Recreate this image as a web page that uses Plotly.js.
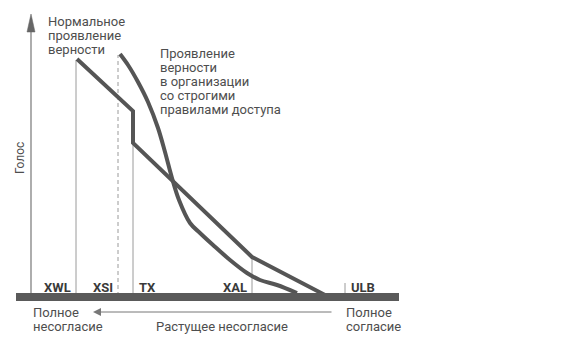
<!DOCTYPE html>
<html>
<head>
<meta charset="utf-8">
<script src="https://cdn.plot.ly/plotly-3.0.1.min.js"></script>
<style>html,body{margin:0;padding:0;background:#fff;}#chart{width:583px;height:352px;}</style>
</head>
<body>
<div id="chart"></div>
<script>
// ---- data (x: position along the agreement scale, y: voice) ----
const normalX = [46, 102, 102, 221, 294];
const normalY = [237, 185, 153, 39, 1];

const strictX = [89, 97, 107, 117, 127, 134, 141, 148, 159, 169, 182, 199, 216, 229, 246, 266];
const strictY = [242, 231, 214, 194, 168, 144, 118, 96, 73, 63, 51, 36, 23, 16, 11, 3];

const markerLabels = ['XWL', 'XSI', 'TX', 'XAL', 'ULB'];
const markerX = [45, 87, 102, 221, 314];
const markerTop = [236, 241, 153, 38, 13];

const normalLabel = ['Нормальное', 'проявление', 'верности'];
const strictLabel = ['Проявление', 'верности', 'в организации', 'со строгими', 'правилами доступа'];
const leftEndLabel = ['Полное', 'несогласие'];
const rightEndLabel = ['Полное', 'согласие'];
const arrowLabel = 'Растущее несогласие';
const yTitle = 'Голос';

const axisTop = 282, baseStart = -15, baseEnd = 368;

// ---- styles ----
const curveColor = '#555555';
const thinColor = '#9a9a9a';
const textColor = '#4e4e4e';
const font = 'Roboto, "Liberation Sans", Arial, sans-serif';

const traces = [];

// y axis line
traces.push({x: [0, 0], y: [0, axisTop - 14], mode: 'lines', line: {color: '#777', width: 1.2}, hoverinfo: 'skip'});
// y axis arrowhead
traces.push({x: [-4, 0, 4, -4], y: [axisTop - 18, axisTop, axisTop - 18, axisTop - 18], mode: 'lines', fill: 'toself', fillcolor: '#666', line: {color: '#666', width: 0.5}, hoverinfo: 'skip'});

// vertical marker lines
const solidX = [], solidY = [];
markerLabels.forEach((lab, i) => {
  if (lab === 'XSI') return;
  solidX.push(markerX[i], markerX[i], null);
  solidY.push(0, markerTop[i], null);
});
traces.push({x: solidX, y: solidY, mode: 'lines', line: {color: thinColor, width: 1}, hoverinfo: 'skip'});
const iXSI = markerLabels.indexOf('XSI');
traces.push({x: [markerX[iXSI], markerX[iXSI]], y: [0, markerTop[iXSI]], mode: 'lines', line: {color: thinColor, width: 1, dash: '4px,3px'}, hoverinfo: 'skip'});

// curves
traces.push({x: normalX, y: normalY, mode: 'lines', line: {color: curveColor, width: 4, shape: 'linear'}, hoverinfo: 'skip'});
traces.push({x: strictX, y: strictY, mode: 'lines', line: {color: curveColor, width: 4, shape: 'spline', smoothing: 1}, hoverinfo: 'skip'});

// baseline bar
traces.push({x: [baseStart, baseEnd], y: [-1, -1], mode: 'lines', line: {color: '#5a5a5a', width: 8}, hoverinfo: 'skip'});

const ann = [];
function txt(t, x, y, opts) {
  ann.push(Object.assign({text: t, x: x, y: y, xref: 'x', yref: 'y', showarrow: false,
    xanchor: 'left', yanchor: 'middle', font: {family: font, size: 13, color: textColor}}, opts || {}));
}
normalLabel.forEach((t, i) => txt(t, 15, 275 - i * 14));
strictLabel.forEach((t, i) => txt(t, 127, 243 - i * 14));
leftEndLabel.forEach((t, i) => txt(t, 0, -16 - i * 14));
rightEndLabel.forEach((t, i) => txt(t, 313, -16 - i * 14));
txt(arrowLabel, 191, -30, {xanchor: 'center'});
txt(yTitle, -11, 138, {xanchor: 'center', textangle: -90, font: {family: font, size: 12, color: textColor}});

const labelSide = ['right', 'right', 'left', 'right', 'left'];
markerLabels.forEach((lab, i) => {
  const dx = labelSide[i] === 'right' ? -3 : 4;
  txt('<b>' + lab + '</b>', markerX[i] + dx, 9, {xanchor: labelSide[i], font: {family: font, size: 13, color: '#3a3a3a'}});
});

// bottom arrow
ann.push({x: 62, y: -16, ax: 302, ay: -16, xref: 'x', yref: 'y', axref: 'x', ayref: 'y',
  showarrow: true, arrowhead: 2, arrowsize: 1.6, arrowwidth: 1, arrowcolor: '#777', text: ''});

const layout = {
  width: 583, height: 352,
  margin: {l: 0, r: 0, t: 0, b: 0, pad: 0},
  paper_bgcolor: '#fff', plot_bgcolor: '#fff',
  showlegend: false,
  xaxis: {range: [-31, 552], visible: false, fixedrange: true},
  yaxis: {range: [-56, 296], visible: false, fixedrange: true},
  annotations: ann
};

Plotly.newPlot('chart', traces, layout, {staticPlot: true, displayModeBar: false});
</script>
</body>
</html>
